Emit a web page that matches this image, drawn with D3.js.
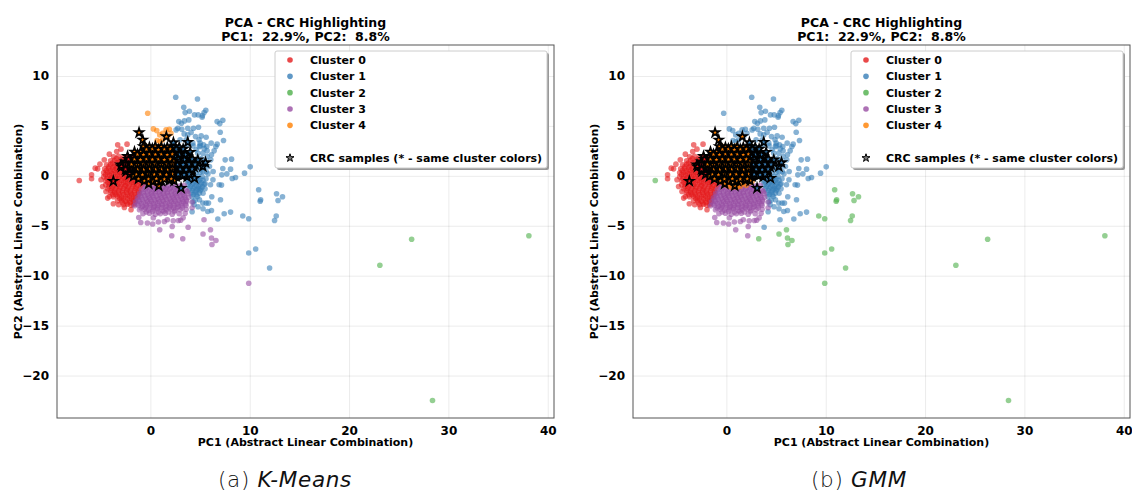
<!DOCTYPE html>
<html><head><meta charset="utf-8">
<script src="https://cdn.jsdelivr.net/npm/d3@7"></script>
<style>
html,body{margin:0;padding:0;background:#fff}
text{font-family:"DejaVu Sans",sans-serif;white-space:pre}
</style></head><body><svg id="c" width="1132" height="492"></svg>
<script>
const clusterNames=["Cluster 0","Cluster 1","Cluster 2","Cluster 3","Cluster 4"];
const clusterColors=["#e41a1c","#377eb8","#4daf4a","#984ea3","#ff7f00"];
const xTicks=[0,10,20,30,40];
const yTicks=[10,5,0,-5,-10,-15,-20];
const redOuter=[[-5.92,.1],[-5.92,-.3],[-5.55,.77],[-5.08,1.17],[-4.64,1.6],[-4.13,2.17],[-3.29,3.1],[-2.35,3.17],[-3.39,2.43],[-2.96,2.67],[-5.31,.7],[-4.97,-.4],[-4.81,-1.07],[-4.47,-1.57],[-4.13,-2.07],[-4.3,-2.23],[-3.73,-2.8],[-3.19,-2.9],[-2.62,-3.17],[-1.95,-3.4],[-3.8,-1.9]];
const redCore=[[-3.7,1.9],[-3.2,1.95],[-2.7,1.85],[-2.2,1.9],[-4,1.5],[-3.6,1.55],[-3.1,1.45],[-2.7,1.5],[-2.2,1.55],[-4.4,1.1],[-4,1.15],[-3.6,1.05],[-3.2,1.1],[-2.8,1.15],[-2.3,1.05],[-4.6,.7],[-4.2,.75],[-3.8,.65],[-3.4,.7],[-3,.75],[-2.6,.65],[-2.2,.7],[-4.7,.3],[-4.3,.35],[-3.9,.25],[-3.5,.3],[-3.1,.35],[-2.7,.25],[-2.3,.3],[-1.9,.35],[-4.7,-.1],[-4.3,-.05],[-3.9,-.15],[-3.5,-.1],[-3.1,-.05],[-2.7,-.15],[-2.3,-.1],[-1.9,-.05],[-1.5,-.15],[-1.1,-.1],[-.7,-.05],[-4.5,-.5],[-4.1,-.45],[-3.7,-.55],[-3.3,-.5],[-2.9,-.45],[-2.5,-.55],[-2.1,-.5],[-1.7,-.45],[-1.3,-.55],[-.9,-.5],[-.6,-.45],[-4.5,-.9],[-4.1,-.85],[-3.7,-.95],[-3.3,-.9],[-2.9,-.85],[-2.5,-.95],[-2.1,-.9],[-1.7,-.85],[-1.3,-.95],[-.85,-.9],[-4.3,-1.3],[-3.9,-1.25],[-3.5,-1.35],[-3.1,-1.3],[-2.7,-1.25],[-2.3,-1.35],[-1.9,-1.3],[-1.5,-1.25],[-1.05,-1.35],[-4,-1.7],[-3.6,-1.65],[-3.2,-1.75],[-2.8,-1.7],[-2.4,-1.65],[-2,-1.75],[-1.6,-1.7],[-1.15,-1.65],[-3.7,-2.1],[-3.3,-2.05],[-2.9,-2.15],[-2.5,-2.1],[-2.1,-2.05],[-1.7,-2.15],[-1.3,-2.1],[-3.3,-2.5],[-2.9,-2.45],[-2.5,-2.55],[-2.1,-2.5],[-1.7,-2.45],[-1.5,-2.55],[-2.7,-2.9],[-2.3,-2.85],[-1.95,-2.95],[-1.7,-2.9]];
const redDense=[[-3.42,1.72],[-2.93,1.66],[-2.47,1.74],[-3.81,1.28],[-3.33,1.34],[-2.96,1.27],[-2.52,1.33],[-2.03,1.26],[-4.17,.92],[-3.74,.87],[-3.36,.94],[-2.91,.88],[-2.44,.93],[-2.02,.86],[-4.44,.52],[-4.06,.47],[-3.63,.54],[-3.27,.48],[-2.84,.53],[-2.46,.46],[-2.08,.52],[-1.72,.47],[-4.52,.12],[-4.08,.07],[-3.71,.14],[-3.29,.08],[-2.92,.13],[-2.48,.06],[-2.11,.12],[-1.68,.07],[-1.32,.13],[-.91,.08],[-4.38,-.28],[-4.02,-.33],[-3.58,-.27],[-3.22,-.32],[-2.78,-.26],[-2.42,-.33],[-1.98,-.27],[-1.62,-.32],[-1.18,-.26],[-.82,-.31],[-4.28,-.68],[-3.92,-.73],[-3.48,-.67],[-3.12,-.72],[-2.68,-.66],[-2.32,-.73],[-1.88,-.67],[-1.52,-.72],[-1.08,-.66],[-.72,-.71],[-4.18,-1.08],[-3.82,-1.13],[-3.38,-1.07],[-3.02,-1.12],[-2.58,-1.06],[-2.22,-1.13],[-1.78,-1.07],[-1.42,-1.12],[-.98,-1.08],[-3.98,-1.48],[-3.62,-1.53],[-3.18,-1.47],[-2.82,-1.52],[-2.38,-1.46],[-2.02,-1.53],[-1.58,-1.47],[-1.22,-1.52],[-3.48,-1.88],[-3.12,-1.93],[-2.68,-1.87],[-2.32,-1.92],[-1.88,-1.86],[-1.52,-1.93],[-1.2,-1.87],[-3.08,-2.28],[-2.72,-2.33],[-2.28,-2.27],[-1.92,-2.32],[-1.48,-2.26],[-2.82,-2.68],[-2.38,-2.72],[-2.02,-2.67],[-1.62,-2.71]];
const redToGreen=[[-7.16,-.47]];
const blueShared=[[2.55,7.87],[4.74,7.7],[3.36,6.87],[3.5,6.33],[3.93,6.47],[4.44,6.1],[4.81,6.1],[5.21,5.87],[5.41,6.33],[5.58,6.57],[5.24,6.03],[6.72,5.43],[7.29,5.57],[6.99,5.23],[7.03,4.37],[7.36,3.53],[6.72,3.17],[6.59,2.93],[6.42,2.5],[5.71,2.5],[6.08,1.6],[6.32,.43],[7.53,1.6],[8.17,1.67],[7.29,.73],[8.07,.67],[7.19,.1],[7.7,.2],[8.24,-.27],[8.57,-.17],[9.48,.27],[10.05,.9],[8.07,-3.63],[7.43,-3.8],[6.79,-4.33],[6.15,-3.47],[5.78,-3.57],[7.06,-2.4],[5.61,-2.73],[6.18,-2.1],[6.05,-.9],[5.51,-.8],[6.92,-.9],[7.16,-.93],[4.94,-1.73],[4.74,-2.07],[4.94,-2.4],[5.28,-2.73],[5.85,-2.73],[2.86,5.43],[3.13,5.27],[3.43,5.5],[3.87,5.6],[2.76,4.77],[3.16,4.67],[3.76,4.77],[4.34,4.77],[4.84,4.87],[2.59,4.6],[3.76,4.1],[4.54,3.93],[5.11,4],[5.61,3.87],[2.99,3.6],[3.6,3.6],[5.01,3.27],[5.68,2.93],[6.12,3.27],[4.27,3.27],[4.77,2.27],[5.28,2.27],[5.71,1.93],[6.15,2.1],[5.95,.93],[5.28,.43],[3.4,4.2],[4.1,4.35],[4.9,3.6],[5.35,3.1],[5.5,1.5],[5.8,.2],[5.6,-.3],[6.3,-.4],[5.3,-3.3],[4.4,-2.9],[4.2,-3.6],[4.8,-3.1]];
const blueCore=[[3.6,-.1],[4,-.05],[4.4,-.15],[4.8,-.1],[5.2,-.05],[3.7,-.5],[4.1,-.45],[4.5,-.55],[4.9,-.5],[5.3,-.45],[3.8,-.9],[4.2,-.85],[4.6,-.95],[5,-.9],[5.4,-.85],[3.9,-1.3],[4.3,-1.25],[4.7,-1.35],[5.1,-1.3],[5.5,-1.3],[4.1,-1.7],[4.5,-1.65],[4.9,-1.3],[5.3,-1.75],[4.2,-2.1],[4.5,-2.45],[4.3,-2.6],[4.6,.3],[5,.35],[4.9,.8],[5.3,1.2],[4.6,2.6],[4.3,3],[3.7,3.1]];
const blueDense=[[3.82,-.28],[4.22,-.31],[4.63,-.27],[5.02,-.33],[3.93,-.68],[4.34,-.72],[4.72,-.67],[5.14,-.71],[4.03,-1.08],[4.44,-1.12],[4.83,-1.07],[5.24,-1.11],[4.22,-1.48],[4.61,-1.52],[5.02,-1.47],[4.33,-1.88],[4.64,-1.91],[4.02,.22],[4.42,.61],[5.12,.72],[5.52,.93],[5.62,.42],[4.72,1.22],[5.12,1.72],[5.42,2.72],[4.92,2.92],[5.02,3.02]];
const blueToGreen=[[10.9,-1.4],[11.1,-2.4],[11.05,-2.55],[12.7,-1.8],[13.3,-2.1],[12.85,-2.47],[9.3,-4.03],[9.9,-4.3],[12.67,-4.03],[12.5,-4.47],[9.9,-7.73],[10.6,-7.33],[12,-9.23]];
const greenShared=[[23.1,-8.95],[26.3,-6.35],[38.1,-6],[28.4,-22.5]];
const purpleCore=[[-.6,-1],[-.2,-.95],[.2,-1.05],[.6,-1],[1,-.95],[1.4,-1.05],[1.8,-1],[2.2,-.95],[2.6,-1.05],[3,-1],[3.4,-.95],[-.9,-1.4],[-.5,-1.35],[-.1,-1.45],[.3,-1.4],[.7,-1.35],[1.1,-1.45],[1.5,-1.4],[1.9,-1.35],[2.3,-1.45],[2.7,-1.4],[3.1,-1.35],[3.6,-1.45],[-1.1,-1.8],[-.7,-1.75],[-.3,-1.85],[.1,-1.8],[.5,-1.75],[.9,-1.85],[1.3,-1.8],[1.7,-1.75],[2.1,-1.85],[2.5,-1.8],[2.9,-1.75],[3.3,-1.85],[3.8,-1.8],[-1.3,-2.2],[-.9,-2.15],[-.5,-2.25],[-.1,-2.2],[.3,-2.15],[.7,-2.25],[1.1,-2.2],[1.5,-2.15],[1.9,-2.25],[2.3,-2.2],[2.7,-2.15],[3.1,-2.25],[3.5,-2.2],[3.85,-2.15],[-1.5,-2.6],[-1.1,-2.55],[-.7,-2.65],[-.3,-2.6],[.1,-2.55],[.5,-2.65],[.9,-2.6],[1.3,-2.55],[1.7,-2.65],[2.1,-2.6],[2.5,-2.55],[2.9,-2.65],[3.3,-2.6],[3.65,-2.55],[-1.6,-3],[-1.2,-2.95],[-.8,-3.05],[-.4,-3],[0,-2.95],[.4,-3.05],[.8,-3],[1.2,-2.95],[1.6,-3.05],[2,-3],[2.4,-2.95],[2.8,-3.05],[3.2,-3],[3.6,-2.95],[-1.1,-3.4],[-.6,-3.35],[-.2,-3.45],[.3,-3.4],[.7,-3.35],[1.2,-3.45],[1.6,-3.4],[2.1,-3.35],[2.5,-3.45],[3,-3.4],[3.6,-3.35],[-.75,-3.8],[-.1,-3.75],[.5,-3.85],[1,-3.8],[1.5,-3.75],[2.2,-3.85],[2.9,-3.8],[3.5,-3.75],[4.2,-3.2],[4.2,-2.65]];
const purpleDense=[[-.42,-1.22],[.02,-1.18],[.41,-1.23],[.83,-1.17],[1.22,-1.21],[1.61,-1.18],[2.03,-1.23],[2.42,-1.17],[2.81,-1.22],[3.22,-1.18],[-.71,-1.62],[-.28,-1.58],[.12,-1.63],[.52,-1.57],[.91,-1.61],[1.33,-1.58],[1.72,-1.63],[2.12,-1.57],[2.53,-1.62],[2.92,-1.58],[3.31,-1.63],[3.72,-1.57],[-1.02,-2.02],[-.58,-1.98],[-.21,-2.03],[.22,-1.97],[.61,-2.01],[1.03,-1.98],[1.42,-2.03],[1.81,-1.97],[2.23,-2.02],[2.62,-1.98],[3.01,-2.03],[3.42,-1.97],[-1.21,-2.42],[-.82,-2.38],[-.38,-2.43],[.02,-2.37],[.41,-2.41],[.82,-2.38],[1.22,-2.43],[1.61,-2.37],[2.03,-2.42],[2.42,-2.38],[2.81,-2.43],[3.23,-2.37],[3.62,-2.41],[-1.31,-2.82],[-.92,-2.78],[-.48,-2.83],[-.08,-2.77],[.32,-2.81],[.72,-2.78],[1.13,-2.83],[1.52,-2.77],[1.91,-2.82],[2.32,-2.78],[2.72,-2.83],[3.13,-2.77],[3.52,-2.81],[-.92,-3.22],[-.51,-3.18],[-.08,-3.23],[.31,-3.17],[.72,-3.21],[1.12,-3.18],[1.53,-3.23],[1.92,-3.17],[2.33,-3.22],[2.71,-3.18],[3.21,-3.23],[-.42,-3.62],[.22,-3.58],[.81,-3.63],[1.32,-3.57],[1.83,-3.62],[2.42,-3.58]];
const purpleOuter=[[-1.17,-4.17],[-.97,-4.67],[-.3,-4.73],[.23,-4.83],[.8,-4.63],[.94,-5.4],[1.41,-4.57],[2.15,-6],[2.2,-5.07],[2.82,-4.47],[2.3,-4.5],[1.7,-4.4],[3.3,-4.2],[.3,-4.2],[3.05,-4.45]];
const purpleToGreen=[[5.3,-5.83],[6.05,-5.4],[3.26,-6.3],[6.15,-6.23],[6.6,-6.47],[6.2,-6.87],[9.9,-10.75]];
const purpleToBlue=[[3.8,-5.15],[5.4,-4.4]];
const orangeCore=[[-.8,.3],[-.2,.8],[.4,.2],[1,.7],[1.6,.1],[2.2,.6],[-.6,1.4],[0,1.9],[.6,1.3],[1.2,1.8],[1.8,1.2],[2.4,1.7],[-.3,2.4],[.3,2.8],[.9,2.4],[1.5,2.8],[2.1,2.3],[.1,-.4],[.7,-.3],[1.3,-.4],[1.9,-.3],[-.5,3],[1,3]];
const orangeToBlue=[[-.27,6.27],[.3,4.7],[.64,4.53],[.94,4.1],[.67,3.53],[1.24,4.27],[1.58,4.6],[1.91,4.67],[2.07,4.27],[1.24,3.6],[1.75,3.93],[.97,3.43]];
const orangeLowKM=[[-.1,-.6],[.5,-.75],[.95,-.7]];
const orangeLowGMM=[[-.4,-.7],[-.1,-.9],[.2,-1],[.5,-.85],[.8,-1.1],[1.1,-.9],[1.4,-1.05],[1.7,-.8],[2,-.95],[2.3,-.7],[2.6,-.55],[.3,-.7],[.9,-.75],[1.5,-.7],[1.1,-1.15],[.5,-1.15]];
const crcRed=[[-3.73,-.53],[-2.96,1.1],[-2.45,.43],[-2.3,1.95],[-2.5,1.4],[-2.9,.9],[-2.2,.85],[-1.9,.4],[-1.7,1.9],[-1.9,1.45],[-2.2,1.65],[-2.5,1.15],[-2.5,.65],[-1.8,.65],[-2.1,.15]];
const crcOrange=[[-.77,3.6],[-1.14,4.33],[1.61,3.93],[-.17,-.8],[.84,-1],[-.7,2.95],[-.1,2.85],[.5,2.95],[1.1,2.9],[1.7,2.85],[-1.6,2.4],[-1,2.35],[-.4,2.45],[.3,2.4],[.9,2.35],[1.5,2.45],[2,2.4],[-1.1,1.85],[-.5,1.95],[.1,1.9],[.7,1.85],[1.3,1.95],[1.9,1.9],[-1.3,1.45],[-.7,1.35],[-.1,1.4],[.5,1.45],[1.1,1.35],[1.7,1.4],[2.3,1.45],[-1.6,.95],[-1,.85],[-.4,.9],[.2,.95],[.8,.85],[1.4,.9],[2,.95],[-1.3,.35],[-.7,.45],[-.1,.4],[.5,.35],[1.1,.45],[1.7,.4],[2.3,.35],[-1.7,-.05],[-1,0],[-.4,-.1],[.2,-.05],[.8,0],[1.4,-.1],[2,-.05],[-.6,-.5],[.3,-.55],[1.1,-.5],[1.9,-.45],[2.4,-.5],[-.4,2.65],[.2,2.7],[.8,2.62],[1.4,2.66],[2,2.68],[-1.3,2.15],[-.7,2.12],[-.1,2.18],[.5,2.14],[1.1,2.16],[1.7,2.12],[2.2,2.17],[-1.6,1.65],[-1,1.62],[-.4,1.68],[.2,1.64],[.8,1.66],[1.4,1.62],[2,1.67],[-1.9,1.15],[-1.3,1.12],[-.7,1.18],[-.1,1.14],[.5,1.16],[1.1,1.12],[1.7,1.17],[2.2,1.14],[-1.3,.65],[-.7,.62],[-.1,.68],[.5,.64],[1.1,.66],[1.7,.62],[2.2,.67],[-1.4,.15],[-.8,.12],[-.2,.18],[.4,.14],[1,.16],[1.6,.12],[2.2,.17],[-1.2,-.3],[-.2,-.32],[.6,-.28],[1.4,-.33],[2.1,-.3]];
const crcBlue=[[3.09,-1.23],[4.44,-.23],[5.28,.93],[5.55,1.33],[4.77,1.6],[3.76,3.37],[4,2.37],[2.42,2.93],[2.32,3.33],[2.9,2.85],[2.6,2.4],[3.3,2.35],[2.5,1.95],[3.1,1.85],[3.7,1.9],[2.9,1.35],[3.5,1.45],[4.1,1.4],[2.6,.9],[3.2,.85],[3.8,.95],[4.4,.9],[2.9,.4],[3.5,.35],[4.1,.45],[2.6,-.05],[3.2,0],[3.7,-.1],[2.6,2.65],[3.3,2.68],[2.9,2.15],[3.5,2.12],[2.8,1.65],[3.4,1.62],[4.2,1.68],[2.7,1.15],[3.3,1.12],[3.9,1.17],[4.5,1.14],[3,.65],[3.6,.62],[4.2,.67],[2.8,.15],[3.4,.12],[3.9,.17]];
const legendRowNames=[...clusterNames,"","CRC samples (* - same cluster colors)"];

const panels=[
 {left:57,title:"PCA - CRC Highlighting",sub:"PC1:  22.9%, PC2:  8.8%",cap:["(a) ","K-Means"],
  groups:[[...redOuter,...redCore,...redDense,...redToGreen],[...blueShared,...blueCore,...blueDense,...blueToGreen],greenShared,[...purpleCore,...purpleDense,...purpleOuter,...purpleToGreen,...purpleToBlue],[...orangeCore,...orangeToBlue,...orangeLowKM]]},
 {left:633,title:"PCA - CRC Highlighting",sub:"PC1:  22.9%, PC2:  8.8%",cap:["(b) ","GMM"],
  groups:[[...redOuter,...redCore,...redDense],[...blueShared,...blueCore,...blueDense,...orangeToBlue,...purpleToBlue],[...greenShared,...blueToGreen,...purpleToGreen,...redToGreen],[...purpleCore,...purpleDense,...purpleOuter],[...orangeCore,...orangeLowGMM]]}
];
const crcGroups=[[crcRed,0],[crcBlue,1],[crcOrange,4]];
const W=497,H=373,TOP=45;
const svg=d3.select("#c");
const star=d3.symbol().type(d3.symbolStar);
const dotR=2.8;
panels.forEach((p,pi)=>{
  const g=svg.append("g").attr("transform",`translate(${p.left},${TOP})`);
  const x=d3.scaleLinear().domain([-9.4,40.63]).range([0,W]);
  const y=d3.scaleLinear().domain([13.1,-24.25]).range([0,H]);
  const gx=g.append("g").attr("transform",`translate(0,${H})`).call(d3.axisBottom(x).tickValues(xTicks).tickSize(-H).tickSizeOuter(0).tickPadding(8).tickFormat(d3.format("d")));
  const gy=g.append("g").call(d3.axisLeft(y).tickValues(yTicks).tickSize(-W).tickSizeOuter(0).tickPadding(8).tickFormat(d=>d<0?"\u2212"+Math.abs(d):d));
  [gx,gy].forEach(a=>{a.select(".domain").remove();a.selectAll("line").attr("stroke","#000").attr("stroke-opacity",.08);
    a.selectAll("text").attr("fill","#000").attr("font-size",12).attr("font-weight","bold").attr("font-family","'DejaVu Sans'");});
  p.groups.forEach((pts,i)=>{
    g.append("g").selectAll("circle").data(pts).join("circle").attr("cx",d=>x(d[0])).attr("cy",d=>y(d[1])).attr("r",dotR).attr("fill",clusterColors[i]).attr("fill-opacity",.6);
  });
  crcGroups.forEach(([pts,i])=>{
    g.append("g").selectAll("path").data(pts).join("path").attr("transform",d=>`translate(${x(d[0])},${y(d[1])})`).attr("d",star.size(24)).attr("fill",clusterColors[i]).attr("stroke","#000").attr("stroke-width",1.6).attr("stroke-linejoin","miter");
  });
  g.append("rect").attr("width",W).attr("height",H).attr("fill","none").attr("stroke","#555").attr("stroke-width",1);
  const lg=g.append("g").attr("transform","translate(218,6)");
  lg.append("rect").attr("x",2).attr("y",2).attr("width",272).attr("height",117).attr("rx",2).attr("fill","#999");
  lg.append("rect").attr("width",272).attr("height",117).attr("rx",2).attr("fill","#fff").attr("stroke","#ccc").attr("stroke-width",1);
  const rowY=d3.scaleLinear().domain([0,6]).range([9,107]);
  legendRowNames.forEach((name,i)=>{
    if(!name)return;
    if(i<5) lg.append("circle").attr("cx",15).attr("cy",rowY(i)).attr("r",2.8).attr("fill",clusterColors[i]).attr("fill-opacity",.8);
    else lg.append("path").attr("transform",`translate(15,${rowY(i)})`).attr("d",star.size(20)).attr("fill","#777").attr("stroke","#000").attr("stroke-width",1);
    lg.append("text").attr("x",35).attr("y",rowY(i)+4).attr("font-size",11).attr("font-weight","bold").text(name);
  });
  const cx=W/2;
  g.append("text").attr("x",cx).attr("y",-18).attr("text-anchor","middle").attr("font-size",12.5).attr("font-weight","bold").text(p.title);
  g.append("text").attr("x",cx).attr("y",-4).attr("text-anchor","middle").attr("font-size",12.5).attr("font-weight","bold").text(p.sub);
  g.append("text").attr("x",cx).attr("y",H+28).attr("text-anchor","middle").attr("font-size",11).attr("font-weight","bold").text("PC1 (Abstract Linear Combination)");
  g.append("text").attr("transform",`translate(-35,${H/2}) rotate(-90)`).attr("text-anchor","middle").attr("font-size",11).attr("font-weight","bold").text("PC2 (Abstract Linear Combination)");
  const c=svg.append("text").attr("x",p.left+(pi==0?228:226)).attr("y",487).attr("text-anchor","middle").attr("font-size",21.5).attr("font-family","Lato").attr("font-weight",300).attr("letter-spacing",.7).attr("fill","#111");
  c.append("tspan").text(p.cap[0]);
  c.append("tspan").attr("font-style","italic").text(p.cap[1]);
});
</script></body></html>
